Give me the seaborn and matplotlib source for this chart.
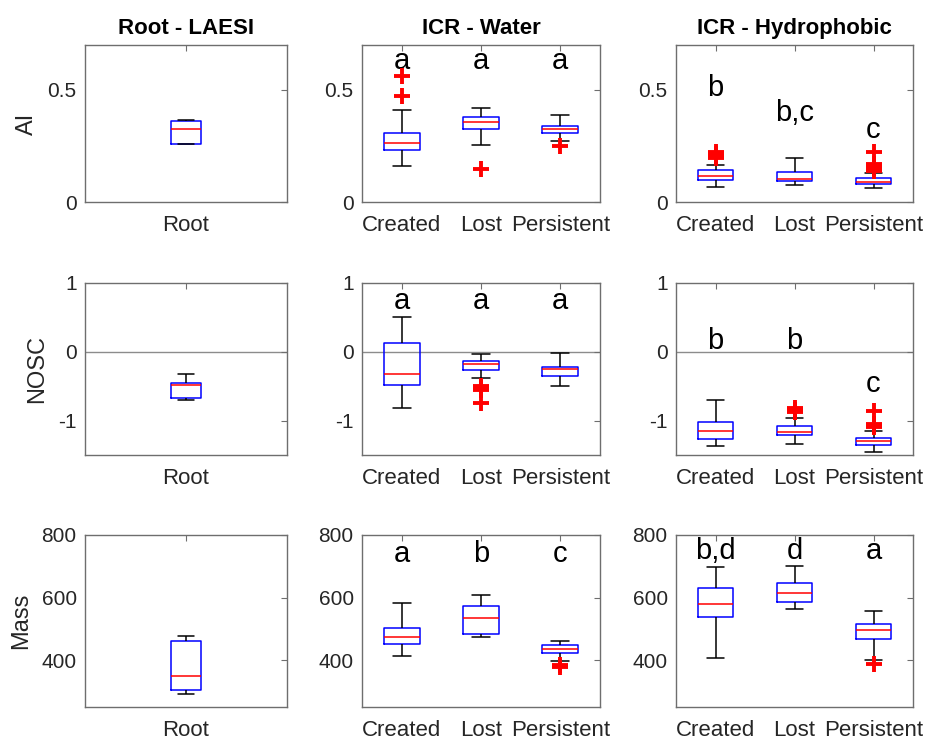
import numpy as np
import pandas as pd
import matplotlib
matplotlib.use("Agg")
import matplotlib.pyplot as plt
import seaborn as sns

sns.set_style("white")
plt.rcParams['font.family'] = ['Liberation Sans', 'DejaVu Sans']

# ---------------- data ----------------
col_titles = ["Root - LAESI", "ICR - Water", "ICR - Hydrophobic"]
row_labels = ["AI", "NOSC", "Mass"]
cats_root = ["Root"]
cats_icr = ["Created", "Lost", "Persistent"]

# five-number summaries: lower whisker, Q1, median, Q3, upper whisker
ai_root = [0.257, 0.260, 0.325, 0.360, 0.365]
ai_water_created = [0.162, 0.231, 0.261, 0.307, 0.410]
ai_water_lost = [0.252, 0.325, 0.356, 0.381, 0.421]
ai_water_persistent = [0.270, 0.307, 0.325, 0.341, 0.389]
ai_hydro_created = [0.065, 0.098, 0.117, 0.141, 0.165]
ai_hydro_lost = [0.074, 0.093, 0.102, 0.132, 0.194]
ai_hydro_persistent = [0.061, 0.080, 0.089, 0.107, 0.128]

nosc_root = [-0.703, -0.675, -0.488, -0.450, -0.325]
nosc_water_created = [-0.813, -0.488, -0.320, 0.134, 0.507]
nosc_water_lost = [-0.378, -0.263, -0.182, -0.139, -0.033]
nosc_water_persistent = [-0.502, -0.359, -0.249, -0.225, -0.014]
nosc_hydro_created = [-1.364, -1.273, -1.158, -1.014, -0.703]
nosc_hydro_lost = [-1.335, -1.215, -1.163, -1.081, -0.967]
nosc_hydro_persistent = [-1.455, -1.354, -1.297, -1.258, -1.158]

mass_root = [291, 304, 348, 462, 476]
mass_water_created = [412, 451, 474, 504, 582]
mass_water_lost = [474, 484, 535, 574, 609]
mass_water_persistent = [398, 424, 436, 448, 461]
mass_hydro_created = [408, 537, 580, 631, 699]
mass_hydro_lost = [564, 585, 616, 647, 702]
mass_hydro_persistent = [400, 467, 497, 515, 556]

# outliers
ai_water_out = {"Created": [0.473, 0.562], "Lost": [0.148], "Persistent": [0.251]}
ai_hydro_out = {"Created": [0.195, 0.205, 0.215, 0.225],
                "Lost": [],
                "Persistent": [0.14, 0.15, 0.16, 0.17, 0.225]}
nosc_water_out = {"Created": [], "Lost": [-0.50, -0.53, -0.56, -0.75], "Persistent": []}
nosc_hydro_out = {"Created": [], "Lost": [-0.82, -0.85, -0.88],
                  "Persistent": [-0.86, -1.05, -1.08, -1.10]}
mass_water_out = {"Created": [], "Lost": [], "Persistent": [378, 383]}
mass_hydro_out = {"Created": [], "Lost": [], "Persistent": [389]}

# significance letters
letters_ai_water = ["a", "a", "a"]
letters_ai_water_y = [0.63, 0.63, 0.63]
letters_ai_hydro = ["b", "b,c", "c"]
letters_ai_hydro_y = [0.51, 0.395, 0.32]
letters_nosc_water = ["a", "a", "a"]
letters_nosc_water_y = [0.74, 0.74, 0.74]
letters_nosc_hydro = ["b", "b", "c"]
letters_nosc_hydro_y = [0.16, 0.16, -0.47]
letters_mass_water = ["a", "b", "c"]
letters_mass_water_y = [740, 740, 740]
letters_mass_hydro = ["b,d", "d", "a"]
letters_mass_hydro_y = [750, 750, 750]

ylims = [(0, 0.7), (-1.5, 1.0), (250, 800)]
yticks = [[0, 0.5], [-1, 0, 1], [400, 600, 800]]
yticklabels = [["0", "0.5"], ["-1", "0", "1"], ["400", "600", "800"]]

panels = [
    [(cats_root, [ai_root], {}, None, None),
     (cats_icr, [ai_water_created, ai_water_lost, ai_water_persistent], ai_water_out,
      letters_ai_water, letters_ai_water_y),
     (cats_icr, [ai_hydro_created, ai_hydro_lost, ai_hydro_persistent], ai_hydro_out,
      letters_ai_hydro, letters_ai_hydro_y)],
    [(cats_root, [nosc_root], {}, None, None),
     (cats_icr, [nosc_water_created, nosc_water_lost, nosc_water_persistent], nosc_water_out,
      letters_nosc_water, letters_nosc_water_y),
     (cats_icr, [nosc_hydro_created, nosc_hydro_lost, nosc_hydro_persistent], nosc_hydro_out,
      letters_nosc_hydro, letters_nosc_hydro_y)],
    [(cats_root, [mass_root], {}, None, None),
     (cats_icr, [mass_water_created, mass_water_lost, mass_water_persistent], mass_water_out,
      letters_mass_water, letters_mass_water_y),
     (cats_icr, [mass_hydro_created, mass_hydro_lost, mass_hydro_persistent], mass_hydro_out,
      letters_mass_hydro, letters_mass_hydro_y)],
]

# ---------------- layout ----------------
W, H = 927, 740
fig = plt.figure(figsize=(W / 100, H / 100), dpi=100)
col_px = [(85, 202), (362, 238), (676, 237)]
row_px = [(45, 157), (283, 172), (535, 172)]

text_col = "#262626"
spine_col = "#6e6e6e"

for r in range(3):
    for c in range(3):
        left, w = col_px[c]
        top, h = row_px[r]
        ax = fig.add_axes([left / W, 1 - (top + h) / H, w / W, h / H])
        cats, boxes, outs, letters, ly = panels[r][c]
        df = pd.DataFrame([(cat, v) for cat, b in zip(cats, boxes) for v in b],
                          columns=["cat", "val"])
        width = 0.15 if len(cats) == 1 else 0.45
        if r == 1:
            ax.axhline(0, color="#8c8c8c", lw=1, zorder=0)
        sns.boxplot(data=df, x="cat", y="val", order=cats, ax=ax, width=width,
                    whis=(0, 100), showfliers=False, fill=False, color="blue",
                    linewidth=1.1,
                    boxprops=dict(color="blue"),
                    whiskerprops=dict(color="black"),
                    capprops=dict(color="black"),
                    medianprops=dict(color="red"))
        orows = [(cat, v) for cat in cats for v in outs.get(cat, [])]
        if orows:
            odf = pd.DataFrame(orows, columns=["cat", "val"])
            sns.stripplot(data=odf, x="cat", y="val", order=cats, ax=ax, jitter=False,
                          marker="+", size=12, linewidth=2.8, color="red", zorder=5)
        if letters:
            for i, (t, yv) in enumerate(zip(letters, ly)):
                ax.text(i, yv, t, ha="center", va="center", fontsize=21, color="black")
        ax.set_xlim(-0.5, len(cats) - 0.5)
        ax.set_ylim(*ylims[r])
        ax.set_yticks(yticks[r])
        ax.set_yticklabels(yticklabels[r])
        ax.set_xticks(range(len(cats)))
        ax.set_xticklabels(cats)
        ax.set_xlabel("")
        ax.set_ylabel(row_labels[r] if c == 0 else "", fontsize=17, color=text_col,
                      labelpad=7)
        ax.tick_params(direction="in", top=True, right=True, length=4, width=0.8,
                       color=spine_col, labelcolor=text_col)
        ax.tick_params(axis="x", labelsize=16, pad=9.5)
        ax.tick_params(axis="y", labelsize=15, pad=6)
        for s in ax.spines.values():
            s.set_visible(True)
            s.set_color(spine_col)
            s.set_linewidth(1)
        if r == 0:
            ax.set_title(col_titles[c], fontsize=16, fontweight="bold", pad=8,
                         color="black")

fig.savefig("out.png", dpi=100)
